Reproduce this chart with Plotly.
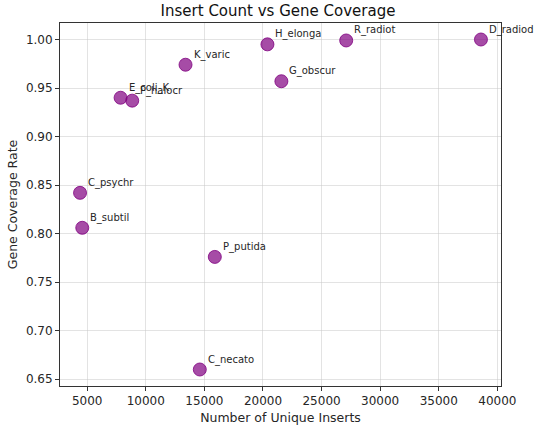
import plotly.graph_objects as go

# Values
organisms = [
    "D_radiod", "R_radiot", "H_elonga", "G_obscur", "K_varic",
    "E_coli_K", "P_halocr", "C_psychr", "B_subtil", "P_putida", "C_necato",
]
unique_inserts = [38600, 27100, 20380, 21570, 13390, 7850, 8840, 4390, 4580, 15890, 14610]
coverage_rate = [1.000, 0.999, 0.995, 0.957, 0.974, 0.940, 0.937, 0.842, 0.806, 0.776, 0.660]

x_ticks = [5000, 10000, 15000, 20000, 25000, 30000, 35000, 40000]
y_ticks = [0.65, 0.70, 0.75, 0.80, 0.85, 0.90, 0.95, 1.00]

FONT = "DejaVu Sans"
PURPLE = "rgba(128,0,128,0.7)"

fig = go.Figure()
fig.add_trace(
    go.Scatter(
        x=unique_inserts,
        y=coverage_rate,
        mode="markers",
        marker=dict(size=13, color=PURPLE, line=dict(color="rgba(128,0,128,0.8)", width=1)),
        hoverinfo="skip",
        showlegend=False,
    )
)

# Organism labels, offset up-right of each point
for name, xv, yv in zip(organisms, unique_inserts, coverage_rate):
    fig.add_annotation(
        x=xv,
        y=yv,
        text=name,
        showarrow=False,
        xanchor="left",
        yanchor="bottom",
        xshift=6,
        yshift=2,
        font=dict(family=FONT, size=10, color="#262626"),
    )

# matplotlib-style 5% margins around the data
x_pad = (max(unique_inserts) - min(unique_inserts)) * 0.05
y_pad = (max(coverage_rate) - min(coverage_rate)) * 0.05

axis_style = dict(
    showline=True,
    linecolor="#333333",
    linewidth=1,
    mirror=True,
    ticks="outside",
    ticklen=4,
    tickcolor="#333333",
    showgrid=True,
    gridcolor="rgba(200,200,200,0.5)",
    gridwidth=1,
    zeroline=False,
    tickfont=dict(family=FONT, size=12, color="#262626"),
)

fig.update_xaxes(
    range=[min(unique_inserts) - x_pad, max(unique_inserts) + x_pad],
    tickvals=x_ticks,
    ticktext=[str(t) for t in x_ticks],
    title=dict(text="Number of Unique Inserts", font=dict(family=FONT, size=12.5, color="#262626"), standoff=5),
    **axis_style,
)
fig.update_yaxes(
    range=[min(coverage_rate) - y_pad, max(coverage_rate) + y_pad],
    tickvals=y_ticks,
    ticktext=[f"{t:.2f}" for t in y_ticks],
    title=dict(text="Gene Coverage Rate", font=dict(family=FONT, size=12.5, color="#262626"), standoff=5),
    **axis_style,
)

fig.update_layout(
    width=556,
    height=433,
    margin=dict(l=60, r=55, t=23, b=47, pad=0),
    plot_bgcolor="white",
    paper_bgcolor="white",
    title=dict(
        text="Insert Count vs Gene Coverage",
        font=dict(family=FONT, size=15, color="#111111"),
        x=0.5,
        xanchor="center",
        y=0.975,
        yanchor="middle",
    ),
)

# drop the default 8px page margin so the figure sits at the top-left corner
fig.write_html(
    "out.html",
    config={"displayModeBar": False},
    post_script="document.body.style.margin='0';",
)
